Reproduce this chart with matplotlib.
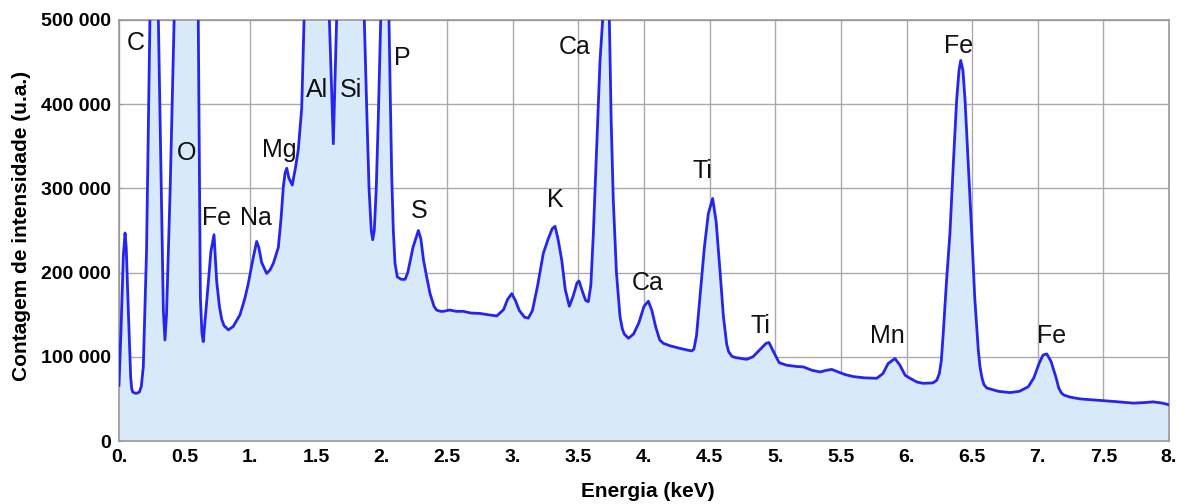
import numpy as np
import matplotlib
matplotlib.use("Agg")
from matplotlib import pyplot as plt
from matplotlib.ticker import FuncFormatter

# spectrum (keV, counts); peaks above 500 000 are clipped
energy = [
    0.0, 0.015, 0.033, 0.046, 0.055, 0.071, 0.089, 0.097, 0.105, 0.13, 0.155, 0.17, 0.185,
    0.21, 0.236, 0.268, 0.30, 0.338, 0.35, 0.362, 0.39, 0.42, 0.47, 0.52, 0.56,
    0.604, 0.62, 0.632, 0.642, 0.66, 0.68, 0.70, 0.724, 0.744, 0.765, 0.782, 0.80,
    0.833, 0.87, 0.922, 0.96, 0.985, 1.023, 1.049, 1.065, 1.087, 1.125, 1.15, 1.176,
    1.214, 1.235, 1.252, 1.265, 1.278, 1.295, 1.32, 1.345, 1.366, 1.392, 1.41, 1.49,
    1.56, 1.603, 1.633, 1.658, 1.74, 1.82, 1.869, 1.89, 1.905, 1.922, 1.933, 1.945,
    1.96, 1.975, 1.994, 2.025, 2.057, 2.068, 2.078, 2.09, 2.103, 2.12, 2.15, 2.18,
    2.2, 2.24, 2.281, 2.3, 2.32, 2.344, 2.37, 2.4, 2.42, 2.45, 2.47, 2.52, 2.57,
    2.623, 2.68, 2.75, 2.81, 2.878, 2.93, 2.96, 2.992, 3.02, 3.05, 3.09, 3.119,
    3.15, 3.19, 3.233, 3.27, 3.3, 3.322, 3.345, 3.373, 3.4, 3.431, 3.46, 3.49,
    3.505, 3.53, 3.555, 3.576, 3.595, 3.614, 3.64, 3.665, 3.685, 3.71, 3.736, 3.75,
    3.766, 3.79, 3.817, 3.835, 3.85, 3.881, 3.92, 3.96, 4.0, 4.033, 4.06, 4.09, 4.12,
    4.147, 4.2, 4.274, 4.33, 4.363, 4.38, 4.40, 4.42, 4.46, 4.49, 4.523, 4.55, 4.58,
    4.605, 4.63, 4.645, 4.67, 4.7, 4.782, 4.83, 4.88, 4.93, 4.952, 4.99, 5.03, 5.087,
    5.163, 5.214, 5.28, 5.341, 5.39, 5.43, 5.48, 5.53, 5.595, 5.68, 5.773, 5.82,
    5.86, 5.912, 5.95, 5.99, 6.027, 6.08, 6.128, 6.2, 6.23, 6.25, 6.265, 6.28, 6.305,
    6.331, 6.357, 6.382, 6.4, 6.413, 6.43, 6.446, 6.47, 6.497, 6.52, 6.547, 6.56, 6.575,
    6.59, 6.611, 6.7, 6.789, 6.86, 6.928, 6.97, 7.01, 7.04, 7.068, 7.1, 7.14, 7.16,
    7.18, 7.2, 7.25, 7.322, 7.45, 7.576, 7.65, 7.728, 7.8, 7.88, 7.95, 8.0,
]
counts = [
    66000, 130000, 220000, 247000, 230000, 155000, 76000, 62000, 58000, 56500, 58000, 65000, 88000,
    227000, 500000, 950000, 500000, 155000, 120000, 150000, 300000, 500000, 1500000, 1800000, 1500000,
    500000, 170000, 128000, 118000, 150000, 187000, 225000, 245000, 190000, 160000, 145000, 137000,
    132000, 136000, 150000, 170000, 187000, 218000, 237000, 230000, 212000, 199000, 203000, 211000,
    230000, 265000, 302000, 318000, 324000, 312000, 304000, 325000, 346000, 395000, 500000, 1100000,
    900000, 500000, 353000, 500000, 1400000, 1000000, 500000, 380000, 300000, 250000, 239000, 250000,
    300000, 380000, 500000, 800000, 500000, 400000, 314000, 250000, 211000, 195000, 192000, 192000,
    200000, 230000, 250000, 240000, 215000, 195000, 175000, 160000, 155500, 154000, 154000, 155500, 154000,
    154000, 152000, 151500, 150000, 148500, 156000, 168000, 175000, 167000, 155000, 147000, 146000,
    155000, 185000, 223000, 240000, 252000, 255000, 240000, 215000, 180000, 160000, 172000, 188000,
    190000, 178000, 167000, 165500, 185000, 246000, 350000, 452000, 500000, 650000, 500000, 380000,
    286000, 200000, 148000, 133000, 127000, 122000, 127000, 140000, 160000, 166000, 155000, 135000, 120000,
    116000, 113000, 110000, 108000, 107000, 109000, 125000, 160000, 230000, 270000, 288000, 260000, 200000,
    148000, 115000, 106000, 100500, 99000, 97000, 100000, 108000, 116000, 117000, 105000, 93000, 90000,
    88500, 88000, 84000, 82000, 84000, 85000, 82000, 79000, 76500, 75000, 74500, 80000,
    92000, 98000, 90000, 78000, 74500, 70000, 68500, 69000, 72000, 80000, 95000, 128000, 190000,
    247000, 330000, 405000, 440000, 452000, 440000, 405000, 330000, 247000, 170000, 108000, 88000, 75000,
    67000, 63000, 59000, 57500, 59000, 64500, 75000, 92000, 102000, 103500, 95000, 75000, 63000,
    57000, 54500, 52000, 50000, 48500, 47000, 46000, 45000, 45500, 46500, 45000, 43000,
]

# element labels: text, x (keV), baseline (counts)
peak_names = ["C", "O", "Fe", "Na", "Mg", "Al", "Si", "P", "S", "K", "Ca",
              "Ca", "Ti", "Ti", "Mn", "Fe", "Fe"]
peak_x = [0.13, 0.516, 0.747, 1.04, 1.219, 1.509, 1.767, 2.156, 2.286, 3.322, 3.47,
          4.03, 4.446, 4.884, 5.853, 6.395, 7.106]
peak_y = [464400, 333700, 256500, 256500, 337600, 408900, 408900, 446600, 264500, 277500, 459600,
          179300, 312700, 128600, 116000, 460500, 116000]

xticks = [0, 0.5, 1, 1.5, 2, 2.5, 3, 3.5, 4, 4.5, 5, 5.5, 6, 6.5, 7, 7.5, 8]
xtick_labels = ["0.", "0.5", "1.", "1.5", "2.", "2.5", "3.", "3.5", "4.", "4.5",
                "5.", "5.5", "6.", "6.5", "7.", "7.5", "8."]
yticks = [0, 100000, 200000, 300000, 400000, 500000]

plt.rcParams["font.family"] = ["Liberation Sans", "DejaVu Sans"]

fig = plt.figure(figsize=(11.89, 5.04), dpi=100)
ax = fig.add_axes([119 / 1189, 1 - 441 / 504, 1050 / 1189, 421 / 504])

ax.fill_between(energy, counts, 0, color="#d8e9fa", zorder=2, linewidth=0)
ax.plot(energy, counts, color="#2525ee", lw=2, zorder=3)

for name, px, py in zip(peak_names, peak_x, peak_y):
    ax.text(px, py, name, fontsize=18, ha="center", va="baseline", color="#111111", zorder=4)

ax.set_xlim(0, 8)
ax.set_ylim(0, 500000)
ax.set_xticks(xticks)
ax.set_xticklabels(xtick_labels)
ax.set_yticks(yticks)
ax.yaxis.set_major_formatter(FuncFormatter(lambda v, p: f"{int(v):,}".replace(",", " ")))
ax.tick_params(axis="both", which="major", labelsize=14, direction="in", length=3,
               color="#999999", pad=6)
for lbl in ax.get_xticklabels() + ax.get_yticklabels():
    lbl.set_fontweight("bold")

ax.grid(True, color="#aaaaaa", lw=1, zorder=1)
ax.set_axisbelow(True)
for sp in ax.spines.values():
    sp.set_color("#999999")
    sp.set_linewidth(1.2)

fig.text(648 / 1189, 1 - 497 / 504, "Energia (keV)", fontsize=15, fontweight="bold",
         ha="center", va="baseline")
fig.text(22 / 1189, 1 - 226 / 504, "Contagem de intensidade (u.a.)", fontsize=15,
         fontweight="bold", rotation=90, ha="center", va="center")

fig.savefig("out.png", dpi=100)
